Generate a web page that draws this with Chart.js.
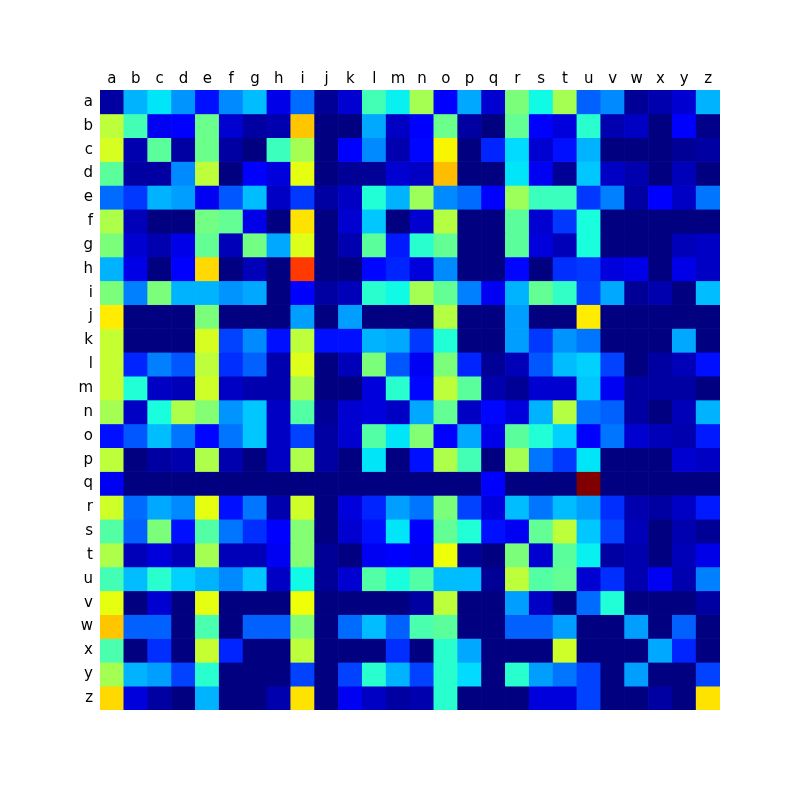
<!DOCTYPE html>
<html>
<head>
<meta charset="utf-8">
<script src="https://cdn.jsdelivr.net/npm/chart.js@4"></script>
<style>
  body { margin: 0; background: #fff; }
</style>
</head>
<body>
<canvas id="heatmap" width="800" height="800"></canvas>
<script>
const letters = "abcdefghijklmnopqrstuvwxyz".split("");

// one array per row (first letter), 26 values each (second letter a..z), 0..1
const row_a = [0.03,0.30,0.35,0.27,0.14,0.26,0.31,0.09,0.23,0.02,0.07,0.43,0.36,0.55,0.12,0.29,0.07,0.50,0.37,0.55,0.22,0.26,0.02,0.04,0.07,0.30];
const row_b = [0.58,0.43,0.10,0.12,0.48,0.07,0.03,0.04,0.70,0.00,0.00,0.29,0.06,0.12,0.48,0.03,0.00,0.47,0.12,0.08,0.40,0.04,0.06,0.00,0.11,0.01];
const row_c = [0.61,0.04,0.46,0.03,0.48,0.03,0.00,0.42,0.55,0.00,0.12,0.26,0.04,0.13,0.65,0.00,0.16,0.34,0.07,0.14,0.30,0.00,0.00,0.00,0.02,0.03];
const row_d = [0.46,0.03,0.03,0.26,0.58,0.00,0.11,0.08,0.63,0.00,0.02,0.02,0.07,0.06,0.71,0.00,0.00,0.35,0.10,0.02,0.32,0.06,0.04,0.00,0.05,0.00];
const row_e = [0.23,0.18,0.30,0.28,0.10,0.21,0.31,0.06,0.18,0.03,0.06,0.39,0.30,0.54,0.26,0.23,0.12,0.54,0.42,0.42,0.18,0.25,0.03,0.11,0.06,0.24];
const row_f = [0.56,0.05,0.00,0.00,0.49,0.47,0.09,0.00,0.67,0.00,0.07,0.32,0.00,0.07,0.57,0.00,0.00,0.46,0.07,0.18,0.38,0.00,0.00,0.00,0.00,0.00];
const row_g = [0.50,0.07,0.04,0.09,0.47,0.05,0.49,0.29,0.62,0.00,0.04,0.46,0.15,0.40,0.47,0.00,0.00,0.46,0.08,0.05,0.38,0.00,0.00,0.00,0.05,0.06];
const row_h = [0.30,0.09,0.00,0.11,0.68,0.00,0.05,0.00,0.85,0.00,0.00,0.13,0.16,0.08,0.26,0.00,0.00,0.13,0.00,0.17,0.18,0.08,0.09,0.00,0.09,0.06];
const row_i = [0.50,0.25,0.50,0.30,0.30,0.27,0.29,0.00,0.12,0.03,0.05,0.40,0.37,0.55,0.47,0.25,0.10,0.30,0.47,0.41,0.19,0.29,0.02,0.04,0.00,0.31];
const row_j = [0.66,0.00,0.00,0.00,0.50,0.00,0.00,0.00,0.28,0.00,0.28,0.00,0.00,0.00,0.57,0.00,0.00,0.28,0.00,0.00,0.66,0.00,0.00,0.00,0.00,0.00];
const row_k = [0.59,0.00,0.00,0.00,0.61,0.19,0.26,0.14,0.58,0.14,0.14,0.30,0.29,0.18,0.39,0.00,0.00,0.28,0.18,0.27,0.24,0.00,0.00,0.00,0.29,0.00];
const row_l = [0.59,0.16,0.25,0.21,0.58,0.17,0.22,0.04,0.62,0.00,0.05,0.50,0.21,0.10,0.50,0.16,0.02,0.05,0.21,0.31,0.33,0.19,0.00,0.03,0.05,0.14];
const row_m = [0.59,0.39,0.06,0.05,0.60,0.06,0.04,0.04,0.55,0.00,0.00,0.08,0.40,0.13,0.58,0.46,0.04,0.02,0.07,0.07,0.32,0.10,0.03,0.03,0.03,0.00];
const row_n = [0.55,0.06,0.38,0.56,0.51,0.27,0.32,0.06,0.45,0.02,0.07,0.08,0.06,0.29,0.47,0.06,0.13,0.08,0.30,0.57,0.24,0.22,0.03,0.00,0.05,0.30];
const row_o = [0.14,0.21,0.31,0.24,0.13,0.24,0.32,0.06,0.19,0.03,0.07,0.45,0.35,0.51,0.12,0.29,0.09,0.46,0.39,0.33,0.12,0.24,0.07,0.05,0.04,0.15];
const row_p = [0.58,0.00,0.03,0.04,0.56,0.04,0.00,0.06,0.56,0.03,0.00,0.35,0.00,0.14,0.56,0.43,0.00,0.55,0.24,0.18,0.35,0.00,0.00,0.00,0.07,0.06];
const row_q = [0.10,0.00,0.00,0.00,0.00,0.00,0.00,0.00,0.00,0.00,0.00,0.00,0.00,0.00,0.00,0.00,0.12,0.00,0.00,0.00,1.00,0.00,0.00,0.00,0.00,0.00];
const row_r = [0.60,0.23,0.29,0.26,0.63,0.14,0.24,0.04,0.60,0.00,0.08,0.16,0.28,0.24,0.50,0.19,0.08,0.31,0.24,0.31,0.28,0.17,0.04,0.03,0.06,0.15];
const row_s = [0.45,0.22,0.50,0.14,0.45,0.24,0.17,0.12,0.51,0.00,0.07,0.14,0.35,0.12,0.47,0.39,0.14,0.10,0.47,0.58,0.32,0.19,0.05,0.00,0.04,0.02];
const row_t = [0.56,0.05,0.08,0.05,0.55,0.05,0.05,0.10,0.51,0.02,0.00,0.10,0.11,0.10,0.64,0.02,0.00,0.50,0.07,0.46,0.36,0.03,0.04,0.00,0.05,0.09];
const row_u = [0.43,0.31,0.40,0.33,0.30,0.26,0.32,0.06,0.37,0.02,0.07,0.45,0.38,0.45,0.31,0.31,0.02,0.58,0.45,0.47,0.07,0.17,0.04,0.10,0.04,0.25];
const row_v = [0.63,0.00,0.07,0.00,0.63,0.00,0.00,0.00,0.64,0.00,0.00,0.00,0.00,0.03,0.58,0.00,0.00,0.28,0.06,0.00,0.23,0.39,0.00,0.00,0.00,0.03];
const row_w = [0.70,0.22,0.22,0.00,0.44,0.00,0.22,0.22,0.51,0.00,0.23,0.31,0.22,0.44,0.46,0.00,0.00,0.22,0.22,0.28,0.00,0.00,0.28,0.00,0.22,0.00];
const row_x = [0.44,0.00,0.17,0.00,0.59,0.16,0.00,0.00,0.58,0.00,0.00,0.00,0.17,0.00,0.40,0.29,0.00,0.00,0.00,0.60,0.00,0.00,0.00,0.29,0.16,0.00];
const row_y = [0.55,0.30,0.28,0.19,0.40,0.00,0.00,0.00,0.19,0.00,0.19,0.40,0.30,0.19,0.40,0.34,0.00,0.40,0.28,0.24,0.19,0.00,0.28,0.00,0.00,0.19];
const row_z = [0.68,0.08,0.03,0.00,0.30,0.00,0.00,0.04,0.67,0.00,0.10,0.06,0.03,0.04,0.40,0.00,0.00,0.00,0.08,0.08,0.19,0.00,0.00,0.03,0.00,0.67];

const rows = [row_a,row_b,row_c,row_d,row_e,row_f,row_g,row_h,row_i,row_j,row_k,row_l,row_m,
              row_n,row_o,row_p,row_q,row_r,row_s,row_t,row_u,row_v,row_w,row_x,row_y,row_z];

// matplotlib "jet" segment data
const jet_r = [[0, 0], [0.35, 0], [0.66, 1], [0.89, 1], [1, 0.5]];
const jet_g = [[0, 0], [0.125, 0], [0.375, 1], [0.64, 1], [0.91, 0], [1, 0]];
const jet_b = [[0, 0.5], [0.11, 1], [0.34, 1], [0.65, 0], [1, 0]];

const interp = (pts, v) => {
    for (let i = 1; i < pts.length; i++) {
        if (v <= pts[i][0]) {
            const [x0, y0] = pts[i - 1], [x1, y1] = pts[i];
            return y0 + (y1 - y0) * (v - x0) / (x1 - x0);
        }
    }
    return pts[pts.length - 1][1];
};

const jet = (v) => {
    v = Math.max(0, Math.min(1, v));
    const c = [jet_r, jet_g, jet_b].map((p) => Math.round(interp(p, v) * 255));
    return "rgb(" + c.join(",") + ")";
};

const datasets = rows.map((vals, i) => ({
    label: letters[i],
    data: letters.map(() => 1),
    backgroundColor: vals.map(jet),
    borderWidth: 0,
    barPercentage: 1,
    categoryPercentage: 1,
}));

const font = { family: "'DejaVu Sans'", size: 15 };

new Chart(document.getElementById("heatmap"), {
    type: "bar",
    data: { labels: letters, datasets },
    options: {
        responsive: false,
        animation: false,
        layout: { padding: { left: 0, top: 0, right: 80, bottom: 90 } },
        plugins: { legend: { display: false }, tooltip: { enabled: false } },
        scales: {
            x: {
                position: "top",
                stacked: true,
                grid: { display: false, drawTicks: false },
                border: { display: false },
                ticks: { color: "#000", font, padding: 2, maxRotation: 0, autoSkip: false },
                afterFit: (scale) => { scale.height = 90; },
            },
            y: {
                stacked: true,
                reverse: true,
                min: 0,
                max: 26,
                grid: { display: false, drawTicks: false },
                border: { display: false },
                afterBuildTicks: (scale) => {
                    scale.ticks = letters.map((l, i) => ({ value: i + 0.5 }));
                },
                ticks: {
                    color: "#000",
                    font,
                    padding: 7,
                    autoSkip: false,
                    callback: (v) => letters[Math.floor(v)],
                },
                afterFit: (scale) => { scale.width = 100; },
            },
        },
    },
});
</script>
</body>
</html>
